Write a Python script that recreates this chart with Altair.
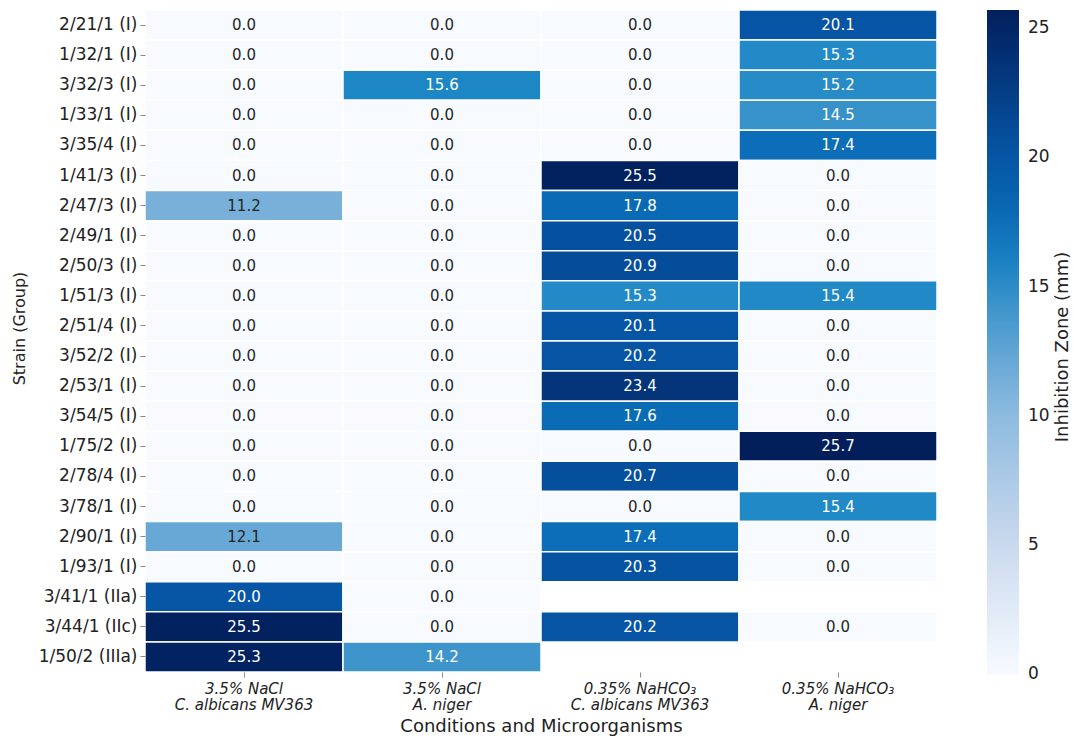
import altair as alt
import pandas as pd

strains = ["2/21/1 (I)", "1/32/1 (I)", "3/32/3 (I)", "1/33/1 (I)", "3/35/4 (I)",
           "1/41/3 (I)", "2/47/3 (I)", "2/49/1 (I)", "2/50/3 (I)", "1/51/3 (I)",
           "2/51/4 (I)", "3/52/2 (I)", "2/53/1 (I)", "3/54/5 (I)", "1/75/2 (I)",
           "2/78/4 (I)", "3/78/1 (I)", "2/90/1 (I)", "1/93/1 (I)", "3/41/1 (IIa)",
           "3/44/1 (IIc)", "1/50/2 (IIIa)"]

conditions = ["3.5% NaCl|C. albicans MV363", "3.5% NaCl|A. niger",
              "0.35% NaHCO\u2083|C. albicans MV363", "0.35% NaHCO\u2083|A. niger"]

nacl_calb = [0.0, 0.0, 0.0, 0.0, 0.0, 0.0, 11.2, 0.0, 0.0, 0.0, 0.0, 0.0, 0.0, 0.0,
             0.0, 0.0, 0.0, 12.1, 0.0, 20.0, 25.5, 25.3]
nacl_anig = [0.0, 0.0, 15.6, 0.0, 0.0, 0.0, 0.0, 0.0, 0.0, 0.0, 0.0, 0.0, 0.0, 0.0,
             0.0, 0.0, 0.0, 0.0, 0.0, 0.0, 0.0, 14.2]
nahco3_calb = [0.0, 0.0, 0.0, 0.0, 0.0, 25.5, 17.8, 20.5, 20.9, 15.3, 20.1, 20.2, 23.4,
               17.6, 0.0, 20.7, 0.0, 17.4, 20.3, None, 20.2, None]
nahco3_anig = [20.1, 15.3, 15.2, 14.5, 17.4, 0.0, 0.0, 0.0, 0.0, 15.4, 0.0, 0.0, 0.0,
               0.0, 25.7, 0.0, 15.4, 0.0, 0.0, None, 0.0, None]

series = [nacl_calb, nacl_anig, nahco3_calb, nahco3_anig]
records = []
for cond, vals in zip(conditions, series):
    for s, v in zip(strains, vals):
        if v is not None:
            records.append({"Strain": s, "Condition": cond, "value": v})
df = pd.DataFrame(records)

# colour ramp (stop value, colour) as seen on the reference colour bar
ramp_stops = [-0.02, 5, 10, 12, 14.5, 15.5, 17.5, 20, 23.4, 25.7]
ramp_colors = ["#f7fbff", "#cbd9ee", "#8dbbdf", "#6aa9d7", "#3792c9",
               "#1e88c6", "#0b6db7", "#0656a5", "#04357b", "#021f5c"]

W, H = 792, 662
FONT = "DejaVu Sans"

base = alt.Chart(df).encode(
    x=alt.X("Condition:N", sort=conditions,
            axis=alt.Axis(title="Conditions and Microorganisms", labelAngle=0,
                          labelExpr="split(datum.label, '|')",
                          labelFontStyle="italic", labelFontSize=15,
                          labelLineHeight=16, labelPadding=4, tickSize=5,
                          titleFontSize=18, titlePadding=5, titleFontWeight="normal",
                          domain=False, labelColor="#222", titleColor="#222")),
    y=alt.Y("Strain:N", sort=strains,
            axis=alt.Axis(title="Strain (Group)", labelFontSize=17, tickSize=5,
                          labelPadding=3, titleFontSize=16, titleFontWeight="normal",
                          titleX=-118, titleY=318, domain=False,
                          labelColor="#222", titleColor="#222")),
)

rects = base.mark_rect(stroke="white", strokeWidth=1.5).encode(
    color=alt.Color("value:Q",
                    scale=alt.Scale(domain=ramp_stops, range=ramp_colors, interpolate="rgb"),
                    legend=alt.Legend(title=None, orient="right", offset=50,
                                      gradientLength=665, gradientThickness=32,
                                      values=[0, 5, 10, 15, 20, 25],
                                      labelFontSize=17, labelOffset=9,
                                      labelBaseline="middle", labelColor="#222",
                                      labelOverlap=False,
                                      padding=0, gradientStrokeWidth=0))
)

texts = base.mark_text(fontSize=15, font=FONT).encode(
    text=alt.Text("value:Q", format=".1f"),
    color=alt.condition("datum.value < 13", alt.value("#262626"), alt.value("white")),
)

cbar_title = alt.Chart(pd.DataFrame({"t": ["Inhibition Zone (mm)"]})).mark_text(
    angle=270, fontSize=18, font=FONT, color="#222", baseline="middle", align="center"
).encode(text="t:N", x=alt.value(W + 126), y=alt.value(H / 2 + 6))

chart = alt.layer(rects, texts, cbar_title).properties(
    width=W, height=H,
    autosize=alt.AutoSizeParams(type="none"),
    padding={"left": 145, "top": 10, "right": 136, "bottom": 67},
).configure(font=FONT).configure_view(stroke=None)

chart.save("out.html", embed_options={"renderer": "svg", "actions": False})
